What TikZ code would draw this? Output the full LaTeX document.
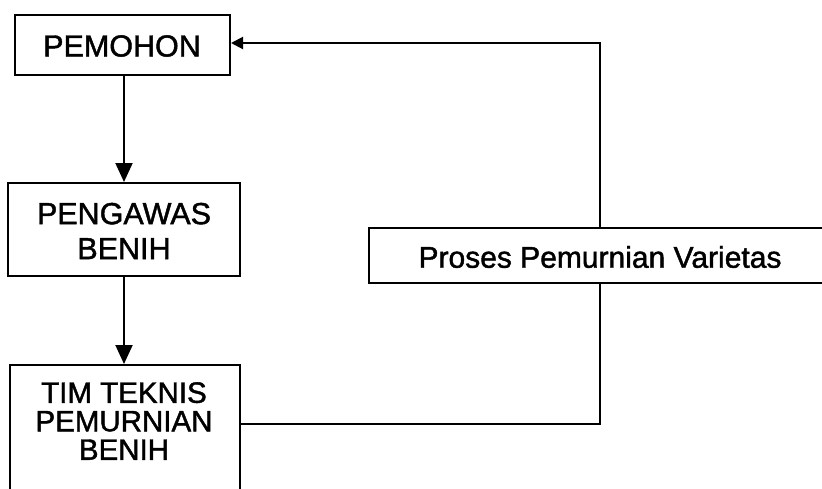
\documentclass[tikz,border=0pt]{standalone}
\usepackage{fontspec}
\setmainfont{Liberation Sans}[BoldFont={Liberation Sans},BoldFeatures={FakeBold=1.4}]
\usetikzlibrary{arrows.meta,positioning}
\begin{document}
\begin{tikzpicture}[x=1pt,y=-1pt,
  box/.style={draw=black,line width=2pt,inner sep=0pt,align=center},
  txt/.style={inner sep=0pt,align=center,font=\fontsize{30.5}{35}\selectfont\bfseries},
  link/.style={draw=black,line width=2pt},
  arr/.style={link,-{Triangle[length=19pt,width=17pt]}},
  arrsmall/.style={link,-{Triangle[length=12pt,width=12pt]}}]
\clip (0,0) rectangle (822,488);
\fill[white] (0,0) rectangle (822,488);
\node[box,minimum width=215pt,minimum height=60pt] (pemohon) at (122.5,45) {};
\node[txt] (pemohontext) at (122,46) {PEMOHON};
\node[box,minimum width=232pt,minimum height=93pt] (pengawas) at (124,229.5) {};
\node[txt] (pengawastext) at (124,231) {PENGAWAS\\BENIH};
\node[box,minimum width=230pt,minimum height=134pt] (tim) at (125,432) {};
\node[txt,font=\fontsize{29.5}{28.5}\selectfont\bfseries] (timtext) at (124,421) {TIM TEKNIS\\PEMURNIAN\\BENIH};
\node[box,minimum width=461pt,minimum height=55pt] (proses) at (599.5,255.5) {};
\node[txt,font=\fontsize{30}{30}\selectfont\bfseries] (prosestext) at (600,257) {Proses Pemurnian Varietas};
\draw[arr] (pemohon.south -| pengawas.north) -- (pengawas.north);
\draw[arr] (pengawas.south) -- (tim.north -| pengawas.south);
\draw[link] ([yshift=8pt]tim.east) -| (proses.south);
\draw[arrsmall] (proses.north) |- ([yshift=2pt]pemohon.east);
\end{tikzpicture}
\end{document}
